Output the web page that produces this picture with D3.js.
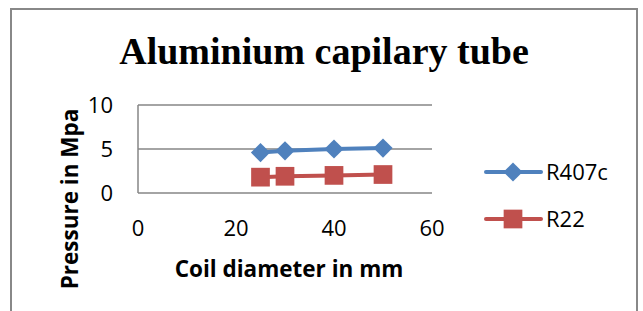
<!DOCTYPE html>
<html>
<head>
<meta charset="utf-8">
<script src="https://d3js.org/d3.v7.min.js"></script>
<style>
  body { margin: 0; background: #fff; }
  svg { display: block; }
</style>
</head>
<body>
<div id="chart"></div>
<script>
// chart data
var diameters = [25, 30, 40, 50];
var r407c = [4.6, 4.8, 5.0, 5.1];
var r22 = [1.8, 1.9, 2.0, 2.1];
var seriesNames = ['R407c', 'R22'];
var xTicks = [0, 20, 40, 60];
var yTicks = [0, 5, 10];

var w = 643;
var h = 311;
var sans = "'Open Sans', 'Liberation Sans', sans-serif";

var xScale = d3.scaleLinear().domain([0, 60]).range([138, 432]);
var yScale = d3.scaleLinear().domain([0, 10]).range([193, 105]);

var svg = d3.select('#chart')
  .append('svg')
  .attr('width', w)
  .attr('height', h);

svg.append('rect')
  .attr('width', w).attr('height', h)
  .attr('fill', '#fff');

// outer frame
svg.append('rect')
  .attr('x', 11).attr('y', 9)
  .attr('width', 626).attr('height', 320)
  .attr('fill', 'none')
  .attr('stroke', '#888')
  .attr('stroke-width', 2);

// title
svg.append('text')
  .attr('x', 324).attr('y', 64)
  .attr('text-anchor', 'middle')
  .style('font-family', "'Liberation Serif', 'Times New Roman', serif")
  .style('font-weight', 'bold')
  .style('font-size', '38px')
  .text('Aluminium capilary tube');

// gridlines
svg.selectAll('line.grid')
  .data(yTicks)
  .enter()
  .append('line')
  .attr('class', 'grid')
  .attr('x1', xScale(0)).attr('x2', xScale(60))
  .attr('y1', function(d) { return yScale(d); })
  .attr('y2', function(d) { return yScale(d); })
  .attr('stroke', '#868686')
  .attr('stroke-width', 1.5);

// y axis line
svg.append('line')
  .attr('x1', xScale(0)).attr('x2', xScale(0))
  .attr('y1', yScale(0)).attr('y2', yScale(10))
  .attr('stroke', '#868686')
  .attr('stroke-width', 1.5);

// y tick labels
svg.selectAll('text.ytick')
  .data(yTicks)
  .enter()
  .append('text')
  .attr('class', 'ytick')
  .attr('x', 113)
  .attr('y', function(d) { return yScale(d); })
  .attr('dy', '0.36em')
  .attr('text-anchor', 'end')
  .style('font-family', sans)
  .style('font-size', '22px')
  .text(function(d) { return d; });

// x tick labels (sit well below the plot)
svg.selectAll('text.xtick')
  .data(xTicks)
  .enter()
  .append('text')
  .attr('class', 'xtick')
  .attr('x', function(d) { return xScale(d); })
  .attr('y', 228)
  .attr('dy', '0.36em')
  .attr('text-anchor', 'middle')
  .style('font-family', sans)
  .style('font-size', '22px')
  .text(function(d) { return d; });

// axis titles
svg.append('text')
  .attr('x', 289).attr('y', 277)
  .attr('text-anchor', 'middle')
  .style('font-family', sans)
  .style('font-weight', 'bold')
  .style('font-size', '22.5px')
  .text('Coil diameter in mm');

svg.append('text')
  .attr('transform', 'translate(78,199) rotate(-90)')
  .attr('text-anchor', 'middle')
  .style('font-family', sans)
  .style('font-weight', 'bold')
  .style('font-size', '22.5px')
  .text('Pressure in Mpa');

// diamond drawn as a square turned 45 degrees, like the office marker
var series = [
  { name: seriesNames[0], values: r407c, color: '#4F81BD', symbol: d3.symbolSquare, size: 185, rot: 45 },
  { name: seriesNames[1], values: r22, color: '#C0504D', symbol: d3.symbolSquare, size: 350, rot: 0 }
];

var line = d3.line()
  .x(function(d) { return xScale(d[0]); })
  .y(function(d) { return yScale(d[1]); });

series.forEach(function(s) {
  var pts = diameters.map(function(d, i) { return [d, s.values[i]]; });
  svg.append('path')
    .attr('d', line(pts))
    .attr('fill', 'none')
    .attr('stroke', s.color)
    .attr('stroke-width', 4);
  svg.selectAll(null)
    .data(pts)
    .enter()
    .append('path')
    .attr('transform', function(d) {
      return 'translate(' + xScale(d[0]) + ',' + yScale(d[1]) + ') rotate(' + s.rot + ')';
    })
    .attr('d', d3.symbol().type(s.symbol).size(s.size))
    .attr('fill', s.color);
});

// legend
var legendY = [172, 219];
series.forEach(function(s, i) {
  var g = svg.append('g').attr('transform', 'translate(0,' + legendY[i] + ')');
  g.append('line')
    .attr('x1', 486).attr('x2', 541)
    .attr('stroke', s.color)
    .attr('stroke-width', 4)
    .attr('stroke-linecap', 'round');
  g.append('path')
    .attr('transform', 'translate(513,0) rotate(' + s.rot + ')')
    .attr('d', d3.symbol().type(s.symbol).size(s.size))
    .attr('fill', s.color);
  g.append('text')
    .attr('x', 546)
    .attr('dy', '0.36em')
    .style('font-family', sans)
    .style('font-size', '22px')
    .text(s.name);
});
</script>
</body>
</html>
